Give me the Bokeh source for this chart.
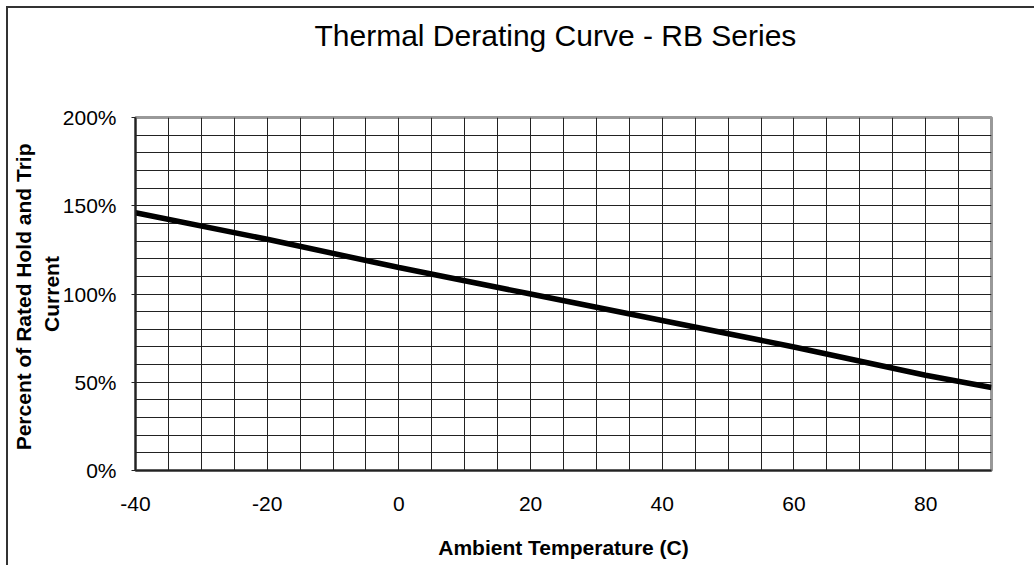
from bokeh.plotting import figure
from bokeh.models import Range1d, FixedTicker, Title
from bokeh.embed import file_html
from bokeh.resources import INLINE

# ---- data ----
temps_c = [-40, -20, 0, 20, 40, 60, 80, 90]
percent_rated = [146, 131, 115, 100, 85, 70, 54, 47]

x_ticks = [-40, -20, 0, 20, 40, 60, 80]
x_tick_labels = ["-40", "-20", "0", "20", "40", "60", "80"]
y_ticks = [0, 50, 100, 150, 200]
y_tick_labels = ["0%", "50%", "100%", "150%", "200%"]
x_grid = list(range(-35, 90, 5))
y_grid = list(range(10, 200, 10))

title_text = "Thermal Derating Curve - RB Series"
x_title = "Ambient Temperature (C)"
y_title = "Percent of Rated Hold  and Trip\nCurrent"

FONT = "Liberation Sans"

p = figure(width=1028, height=559, output_backend="svg", toolbar_location=None,
           x_range=Range1d(-40, 90), y_range=Range1d(0, 200),
           min_border_left=127, min_border_right=45, min_border_top=109,
           min_border_bottom=97,
           styles={"margin-left": "6px", "margin-top": "6px",
                   "border-left": "2px solid #333", "border-top": "2px solid #333"})
p.background_fill_color = "white"
p.border_fill_color = "white"
p.outline_line_color = "#999999"
p.outline_line_width = 3

# spacer between title and frame
p.add_layout(Title(text=" ", text_font_size="30px", standoff=31), "above")

# title
p.title.text = title_text
p.title.align = "left"
p.title.text_font = FONT
p.title.text_font_size = "30px"
p.title.text_font_style = "normal"
p.title.text_color = "black"
p.title.offset = 179
p.title.standoff = 0

# grids
p.xgrid.ticker = FixedTicker(ticks=x_grid)
p.ygrid.ticker = FixedTicker(ticks=y_grid)
for g in (p.xgrid, p.ygrid):
    g.grid_line_color = "#222222"
    g.grid_line_width = 1
    g.grid_line_alpha = 1.0

# axes
p.xaxis.ticker = FixedTicker(ticks=x_ticks)
p.xaxis.major_label_overrides = {t: l for t, l in zip(x_ticks, x_tick_labels)}
p.yaxis.ticker = FixedTicker(ticks=y_ticks)
p.yaxis.major_label_overrides = {t: l for t, l in zip(y_ticks, y_tick_labels)}
for ax in (p.xaxis, p.yaxis):
    ax.axis_line_color = "#222222"
    ax.axis_line_width = 2
    ax.major_tick_line_color = "#222222"
    ax.minor_tick_line_color = None
    ax.major_label_text_font = FONT
    ax.major_label_text_font_size = "21px"
    ax.major_label_text_color = "black"
    ax.axis_label_text_font = FONT
    ax.axis_label_text_font_size = "21px"
    ax.axis_label_text_font_style = "bold"
    ax.axis_label_text_color = "black"
p.xaxis.major_tick_in = 5
p.xaxis.major_tick_out = 0
p.xaxis.major_label_standoff = 26
p.xaxis.axis_label = x_title
p.xaxis.axis_label_standoff = 22
p.yaxis.major_tick_in = 0
p.yaxis.major_tick_out = 4
p.yaxis.major_label_standoff = 15
p.yaxis.axis_label = y_title
p.yaxis.axis_label_standoff = -3

# curve
p.line(temps_c, percent_rated, line_color="black", line_width=5.5)

open("out.html", "w").write(file_html(p, INLINE))
